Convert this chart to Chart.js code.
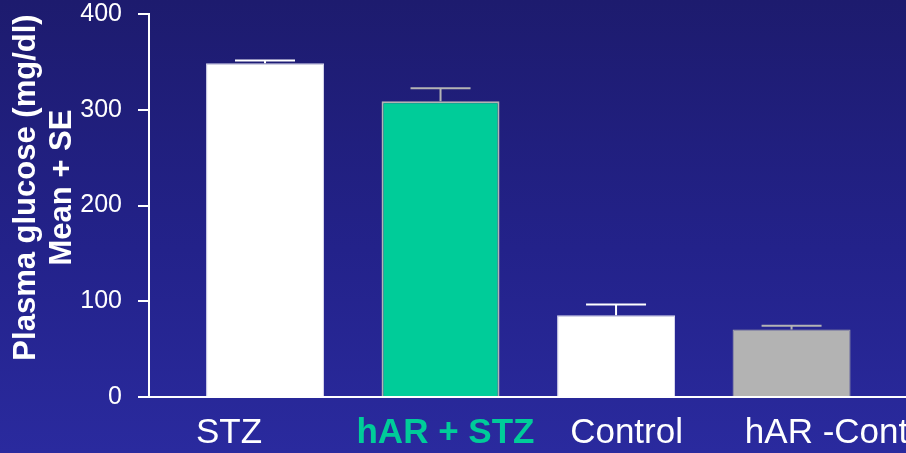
<!DOCTYPE html>
<html>
<head>
<meta charset="utf-8">
<script src="https://cdn.jsdelivr.net/npm/chart.js@4/dist/chart.umd.min.js"></script>
<style>
  html, body { margin: 0; padding: 0; }
  body { width: 906px; height: 453px; overflow: hidden;
         background: linear-gradient(to bottom, #1d1b6e 0%, #23228a 55%, #2a2a9e 100%); }
  #c { display: block; }
</style>
</head>
<body>
<canvas id="c" width="906" height="453"></canvas>
<script>
// ---- data ----
const categories = ['STZ', 'hAR + STZ', 'Control', 'hAR -Control'];
const means = [348.5, 309, 85.5, 70.5];
const se = [3, 13.5, 11, 4];
const yTicks = [0, 100, 200, 300, 400];
const yTitle = ['Plasma glucose (mg/dl)', 'Mean + SE'];

// ---- styling ----
const FONT = '"Liberation Sans", Arial, Helvetica, sans-serif';
const barFill = ['#ffffff', '#00cc99', '#ffffff', '#b3b3b3'];
const barBorder = ['#d4d4ec', '#b4b4b4', '#d4d4ec', '#a9a9a9'];
const barBorderW = [1, 2, 1, 1];
const errColor = ['#ffffff', '#b4b4b4', '#ffffff', '#b4b4b4'];
const labelColor = ['#ffffff', '#00cc99', '#ffffff', '#ffffff'];
const labelWeight = ['normal', 'bold', 'normal', 'normal'];
const labelOffset = [-0.205, 0.028, 0.06, 0.31];

const errorBars = {
  id: 'errorBars',
  afterDatasetsDraw(chart) {
    const {ctx, scales: {x, y}} = chart;
    ctx.save();
    ctx.lineWidth = 2;
    means.forEach((m, i) => {
      const px = x.getPixelForValue(i);
      const yb = y.getPixelForValue(m);
      const yt = y.getPixelForValue(m + se[i]);
      ctx.strokeStyle = errColor[i];
      ctx.beginPath();
      ctx.moveTo(px, yb);
      ctx.lineTo(px, yt);
      ctx.moveTo(px - 30, yt);
      ctx.lineTo(px + 30, yt);
      ctx.stroke();
    });
    ctx.restore();
  }
};

const yAxisTitle = {
  id: 'yAxisTitle',
  afterDraw(chart) {
    const {ctx, chartArea} = chart;
    const cy = (chartArea.top + chartArea.bottom) / 2 - 18;
    ctx.save();
    ctx.fillStyle = '#ffffff';
    ctx.font = 'bold 31px ' + FONT;
    ctx.textAlign = 'center';
    ctx.textBaseline = 'middle';
    yTitle.forEach((line, i) => {
      ctx.save();
      ctx.translate(26 + i * 36, cy);
      ctx.rotate(-Math.PI / 2);
      ctx.fillText(line, 0, 0);
      ctx.restore();
    });
    ctx.restore();
  }
};

new Chart(document.getElementById('c'), {
  type: 'bar',
  data: {
    datasets: [{
      data: categories.map((c, i) => ({x: i, y: means[i]})),
      backgroundColor: barFill,
      borderColor: barBorder,
      borderWidth: barBorderW,
      borderSkipped: 'bottom',
      barPercentage: 0.672,
      categoryPercentage: 1
    }]
  },
  options: {
    responsive: false,
    animation: false,
    layout: { padding: { top: 14, right: 0, left: 0, bottom: 0 } },
    plugins: { legend: { display: false }, tooltip: { enabled: false } },
    scales: {
      x: {
        type: 'linear',
        offset: false,
        bounds: 'data',
        min: -0.661,
        max: 3.652,
        grid: { display: false, drawTicks: false, offset: false },
        border: { display: true, color: '#ffffff', width: 2 },
        afterBuildTicks(scale) {
          scale.ticks = categories.map((c, i) => ({ value: i + labelOffset[i] }));
        },
        afterFit(scale) {
          scale.height = 56;
          scale.paddingLeft = 0;
          scale.paddingRight = 0;
        },
        ticks: {
          padding: 15,
          autoSkip: false,
          maxRotation: 0,
          callback: (v, i) => categories[i],
          color: (ctx) => labelColor[ctx.index],
          font: (ctx) => ({ family: FONT, size: 35, weight: labelWeight[ctx.index] })
        }
      },
      y: {
        min: 0,
        max: 400,
        afterBuildTicks(scale) {
          scale.ticks = yTicks.map(v => ({ value: v }));
        },
        afterFit(scale) {
          scale.width = 149;
          scale.paddingTop = 0;
          scale.paddingBottom = 0;
        },
        grid: { drawOnChartArea: false, drawTicks: true, tickLength: 11, color: '#ffffff', lineWidth: 2 },
        border: { display: true, color: '#ffffff', width: 2 },
        ticks: {
          padding: 16,
          color: '#ffffff',
          font: { family: FONT, size: 25 }
        },
        title: { display: false }
      }
    }
  },
  plugins: [errorBars, yAxisTitle]
});
</script>
</body>
</html>
